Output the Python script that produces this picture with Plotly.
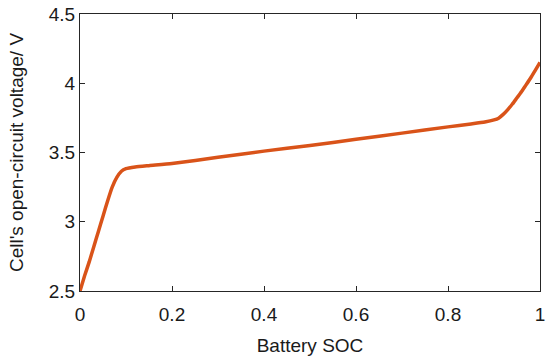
import plotly.graph_objects as go

soc = [0.0, 0.01, 0.02, 0.03, 0.04, 0.05, 0.06, 0.07, 0.08, 0.09, 0.10, 0.12, 0.15,
       0.2, 0.3, 0.4, 0.5, 0.6, 0.7, 0.8, 0.85, 0.88, 0.9, 0.91, 0.92, 0.93, 0.94,
       0.95, 0.96, 0.97, 0.98, 0.99, 1.0]
ocv = [2.50, 2.61, 2.71, 2.82, 2.93, 3.04, 3.15, 3.25, 3.32, 3.365, 3.383, 3.395, 3.405,
       3.42, 3.465, 3.51, 3.55, 3.595, 3.64, 3.685, 3.706, 3.72, 3.735, 3.748, 3.775, 3.81, 3.85,
       3.895, 3.94, 3.99, 4.04, 4.095, 4.15]
x_ticks = [0, 0.2, 0.4, 0.6, 0.8, 1]
x_tick_text = ["0", "0.2", "0.4", "0.6", "0.8", "1"]
y_ticks = [2.5, 3, 3.5, 4, 4.5]
y_tick_text = ["2.5", "3", "3.5", "4", "4.5"]

FONT = "Liberation Sans, Arial, sans-serif"

fig = go.Figure()
fig.add_trace(go.Scatter(x=soc, y=ocv, mode="lines",
                         line=dict(color="#D95319", width=3.5, shape="spline", smoothing=0.5),
                         showlegend=False, hoverinfo="skip", cliponaxis=False))

axis_common = dict(showgrid=False, zeroline=False, showline=True, linecolor="#262626",
                   linewidth=1, mirror="ticks", ticks="inside", ticklen=5, tickcolor="#262626",
                   automargin=False,
                   tickfont=dict(family=FONT, size=19, color="#1a1a1a"))

fig.update_xaxes(range=[0, 1], tickvals=x_ticks, ticktext=x_tick_text, ticklabelstandoff=6,
                 title=dict(text="Battery SOC", font=dict(family=FONT, size=19, color="#1a1a1a"), standoff=14),
                 **axis_common)
fig.update_yaxes(range=[2.5, 4.5], tickvals=y_ticks, ticktext=y_tick_text,
                 title=dict(text="Cell's open-circuit voltage/ V", font=dict(family=FONT, size=19, color="#1a1a1a"), standoff=20),
                 **axis_common)

fig.update_layout(width=550, height=362, margin=dict(l=80, r=10, t=14, b=71),
                  plot_bgcolor="white", paper_bgcolor="white")

fig.write_html("out.html", config={"displayModeBar": False},
               post_script="document.body.style.margin='0';document.body.style.overflow='hidden';")
